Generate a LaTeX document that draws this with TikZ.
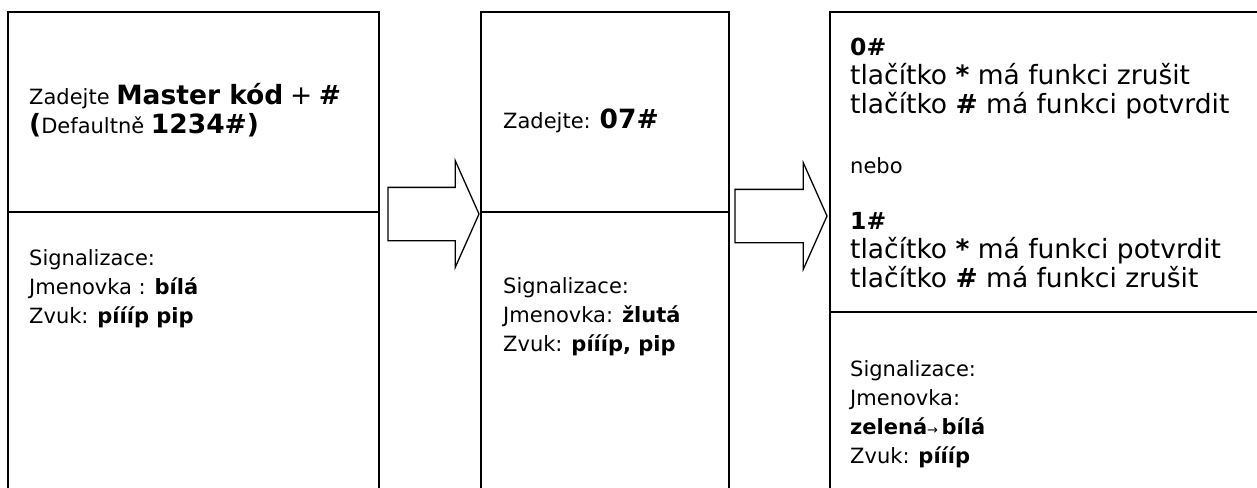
\documentclass[tikz,border=0pt]{standalone}
\usepackage{fontspec}
\setmainfont{DejaVu Sans}
\usetikzlibrary{positioning,calc,shapes.arrows}
\newcommand\smallsz{\fontsize{21}{29}\selectfont}
\newcommand\bigsz{\fontsize{26.5}{32}\selectfont}
\newcommand\keysz{\fontsize{23.5}{29}\selectfont}
\tikzset{
panel/.style={draw, line width=1.7pt, anchor=north west
  ,minimum height=520pt, inner sep=0pt, outer sep=0pt}
,divider/.style={line width=1.7pt}
,stepnote/.style={anchor=base west, inner sep=0pt, align=left, font=\smallsz}
,flowarrow/.style={single arrow, draw, line width=1.3pt
  ,inner xsep=0pt, inner ysep=26pt, outer sep=0pt
  ,single arrow head extend=26.5pt, single arrow tip angle=132
  ,minimum height=91pt, anchor=tail}
}

\begin{document}
\begin{tikzpicture}[x=1pt,y=-1pt]
  \useasboundingbox (0,0) rectangle (1257,487);
  \clip (0,0) rectangle (1257,487);
  % boxes
  \node[panel, minimum width=371pt] (masterbox) at (8,12) {};
  \node[panel, minimum width=248pt] (codebox) at (481,12) {};
  \node[panel, minimum width=500pt] (modebox) at (830,12) {};
  \draw[divider] (masterbox.west |- 0,212) -- (masterbox.east |- 0,212);
  \draw[divider] (codebox.west |- 0,212) -- (codebox.east |- 0,212);
  \draw[divider] (modebox.west |- 0,312) -- (modebox.east |- 0,312);
  % arrows
  \node[flowarrow] (arrA) at (388,214) {};
  \node[flowarrow, minimum height=92pt] (arrB) at (735,216) {};
  % master code (anchored on last line)
  \node[stepnote] (masterin) at (29,133) {Zadejte {\bigsz\bfseries Master kód} {\bigsz+} {\bigsz\bfseries\#}\\
    {\bigsz\bfseries(}Defaultně {\bigsz\bfseries 1234\#)}};
  \node[stepnote] (mastersig) at (29,323) {Signalizace:\\Jmenovka : \textbf{bílá}\\Zvuk: \textbf{píííp pip}};
  % code 07
  \node[stepnote] (codein) at (503,128) {Zadejte: {\bigsz\bfseries 07\#}};
  \node[stepnote] (codesig) at (503,351) {Signalizace:\\Jmenovka: \textbf{žlutá}\\Zvuk: \textbf{píííp, pip}};
  % modes
  \node[stepnote] (modezero) at (850,113) {{\keysz\bfseries 0\#}\\
    {\bigsz tlačítko \textbf{*} má funkci zrušit}\\
    {\bigsz tlačítko \textbf{\#} má funkci potvrdit}};
  \node[stepnote] (modeor) at (850,173) {nebo};
  \node[stepnote] (modeone) at (850,287) {{\keysz\bfseries 1\#}\\
    {\bigsz tlačítko \textbf{*} má funkci potvrdit}\\
    {\bigsz tlačítko \textbf{\#} má funkci zrušit}};
  \node[stepnote] (modesig) at (850,463) {Signalizace:\\Jmenovka:\\
    \textbf{zelená}{\fontsize{13}{13}\selectfont→}\,\textbf{bílá}\\Zvuk: \textbf{píííp}};
\end{tikzpicture}
\end{document}
